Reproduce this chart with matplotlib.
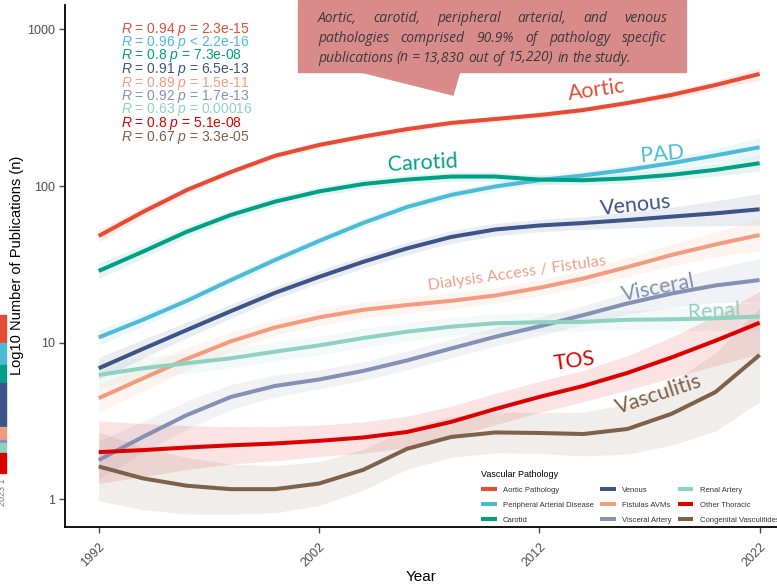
import numpy as np
import matplotlib
matplotlib.use("Agg")
import matplotlib.pyplot as plt
from matplotlib.patches import Rectangle, Polygon

plt.rcParams['font.family'] = ['Liberation Sans', 'DejaVu Sans']
plt.rcParams['mathtext.fontset'] = 'custom'
plt.rcParams['mathtext.it'] = 'Liberation Sans:italic'
plt.rcParams['mathtext.rm'] = 'Liberation Sans'

# ---- data (loess fits, publications per year) ----
years = [1992, 1994, 1996, 1998, 2000, 2002, 2004, 2006,
         2008, 2010, 2012, 2014, 2016, 2018, 2020, 2022]

aortic = [48.0, 68.3, 94.4, 123, 156, 183, 207, 231, 253, 268, 284, 306, 339, 382, 442, 520]
pad = [10.8, 14.0, 18.5, 25.1, 33.7, 44.6, 58.1, 73.5, 87.8, 99.4, 109, 117, 127, 140, 157, 177]
carotid = [28.7, 38.1, 51.1, 65.4, 79.5, 92.4, 103, 110, 115, 115, 110, 109, 112, 118, 127, 140]
venous = [6.86, 9.12, 12.05, 15.9, 20.8, 26.3, 32.8, 40.0, 47.3, 52.8, 56.0, 58.1, 60.7, 63.8, 67.0, 71.1]
fistulas = [4.42, 5.91, 7.87, 10.2, 12.5, 14.5, 16.2, 17.4, 18.5, 20.0, 22.4, 25.7, 30.4, 36.3, 42.4, 48.7]
visceral = [1.78, 2.50, 3.45, 4.50, 5.29, 5.82, 6.60, 7.70, 9.18, 10.9, 12.7, 15.0, 17.8, 20.6, 23.2, 25.1]
renal = [6.22, 6.86, 7.39, 7.95, 8.76, 9.60, 10.7, 11.75, 12.65, 13.3, 13.5, 13.6, 14.0, 14.1, 14.3, 14.7]
thoracic = [2.00, 2.06, 2.14, 2.21, 2.27, 2.36, 2.48, 2.69, 3.12, 3.77, 4.50, 5.29, 6.41, 8.04, 10.3, 13.4]
vasculitis = [1.62, 1.36, 1.22, 1.16, 1.16, 1.26, 1.54, 2.10, 2.50, 2.67, 2.65, 2.61, 2.81, 3.51, 4.84, 8.35]

# half width of the confidence ribbons (log10 units)
se_aortic = [0.04, 0.03, 0.025, 0.02, 0.02, 0.02, 0.02, 0.02, 0.02, 0.02, 0.02, 0.02, 0.02, 0.025, 0.03, 0.04]
se_pad = [0.05, 0.04, 0.035, 0.03, 0.03, 0.03, 0.03, 0.03, 0.03, 0.03, 0.03, 0.03, 0.03, 0.035, 0.045, 0.06]
se_carotid = [0.05, 0.04, 0.035, 0.03, 0.03, 0.03, 0.03, 0.03, 0.03, 0.03, 0.03, 0.03, 0.03, 0.035, 0.04, 0.05]
se_venous = [0.07, 0.06, 0.05, 0.045, 0.04, 0.04, 0.04, 0.04, 0.04, 0.04, 0.04, 0.04, 0.05, 0.06, 0.08, 0.1]
se_fistulas = [0.09, 0.08, 0.07, 0.06, 0.05, 0.05, 0.05, 0.05, 0.05, 0.05, 0.05, 0.05, 0.06, 0.07, 0.08, 0.1]
se_visceral = [0.12, 0.1, 0.09, 0.08, 0.07, 0.06, 0.06, 0.06, 0.06, 0.06, 0.06, 0.06, 0.07, 0.09, 0.11, 0.14]
se_renal = [0.08, 0.07, 0.065, 0.06, 0.06, 0.06, 0.06, 0.06, 0.06, 0.06, 0.06, 0.06, 0.06, 0.07, 0.08, 0.09]
se_thoracic = [0.2, 0.17, 0.14, 0.12, 0.11, 0.1, 0.1, 0.1, 0.1, 0.1, 0.1, 0.1, 0.11, 0.13, 0.16, 0.2]
se_vasculitis = [0.22, 0.2, 0.18, 0.16, 0.15, 0.14, 0.13, 0.13, 0.13, 0.13, 0.13, 0.14, 0.16, 0.2, 0.25, 0.3]

names = ['Aortic Pathology', 'Peripheral Arterial Disease', 'Carotid',
         'Venous', 'Fistulas AVMs', 'Visceral Artery',
         'Renal Artery', 'Other Thoracic', 'Congenital Vasculitides']
colors = ['#E64B35', '#4DBBD5', '#00A087', '#3C5488', '#F39B7F',
          '#8491B4', '#91D1C2', '#DC0000', '#7E6148']
series = [aortic, pad, carotid, venous, fistulas, visceral, renal, thoracic, vasculitis]
ses = [se_aortic, se_pad, se_carotid, se_venous, se_fistulas, se_visceral,
       se_renal, se_thoracic, se_vasculitis]

r_vals = ['0.94', '0.96', '0.8', '0.91', '0.89', '0.92', '0.63', '0.8', '0.67']
p_vals = ['= 2.3e-15', '< 2.2e-16', '= 7.3e-08', '= 6.5e-13', '= 1.5e-11',
          '= 1.7e-13', '= 0.00016', '= 5.1e-08', '= 3.3e-05']

# on-curve annotations: text, x(year), y(value), rotation, colour, size
curve_labels = [('Aortic', 2014.6, 413, 8, '#E64B35', 15.5),
                ('PAD', 2017.6, 161, 5, '#4DBBD5', 15.5),
                ('Carotid', 2006.7, 139, 3, '#00A087', 15.5),
                ('Venous', 2016.4, 75.6, 6, '#3C5488', 15.5),
                ('Dialysis Access / Fistulas', 2011.0, 27.5, 8, '#EFA08C', 11.8),
                ('Visceral', 2017.4, 22.3, 11, '#8491B4', 15.5),
                ('Renal', 2019.95, 15.8, 3, '#91D1C2', 15.5),
                ('TOS', 2013.6, 7.67, 8, '#DC0000', 15.5),
                ('Vasculitis', 2017.4, 4.65, 18, '#7E6148', 15.5)]

fig = plt.figure(figsize=(7.77, 5.86), dpi=100)
ax = fig.add_axes([65 / 777, 1 - 526.7 / 586, 1 - 65 / 777, (526.7 - 5) / 586])

x = np.array(years, dtype=float)
for vals, se, c in zip(series, ses, colors):
    lv = np.log10(vals)
    ax.fill_between(x, 10 ** (lv - np.array(se)), 10 ** (lv + np.array(se)),
                    color=c, alpha=0.11, linewidth=0)
for vals, c, n in zip(series, colors, names):
    ax.plot(x, vals, color=c, lw=2.9, solid_capstyle='butt',
            solid_joinstyle='round', label=n)

ax.set_yscale('log')
ax.set_xlim(1990.47, 2022.79)
ax.set_ylim(0.668, 1433)
ax.set_yticks([1, 10, 100, 1000])
ax.set_yticklabels(['1', '10', '100', '1000'])
ax.minorticks_off()
ax.set_xticks([1992, 2002, 2012, 2022])
ax.set_xticklabels(['1992', '2002', '2012', '2022'], rotation=45, ha='right',
                   rotation_mode='anchor')
ax.tick_params(colors='#4D4D4D', labelsize=9, length=4, width=1)
ax.tick_params(axis='x', pad=6)
for s in ['top', 'right']:
    ax.spines[s].set_visible(False)
for s in ['left', 'bottom']:
    ax.spines[s].set_linewidth(1.3)
ax.set_ylabel('Log10 Number of Publications (n)', fontsize=10.5, labelpad=2)
ax.set_xlabel('Year', fontsize=11, labelpad=1)

# R / p block
for i in range(9):
    fig.text(121 / 777, 1 - (29 + i * 13.5) / 586,
             r'$R$ = ' + r_vals[i] + r' $p$ ' + p_vals[i],
             color=colors[i], fontsize=10, va='center', ha='left')

for txt, xx, yy, rot, c, fs in curve_labels:
    ax.text(xx, yy, txt, color=c, fontsize=fs, rotation=rot, ha='center',
            va='center', family=['Lato', 'DejaVu Sans'])

leg = ax.legend(ncol=3, loc='lower left', bbox_to_anchor=(0.575, -0.008),
                title='Vascular Pathology', fontsize=5.5, title_fontsize=6.5,
                frameon=False, handlelength=2.0, columnspacing=0.9,
                labelspacing=1.0)
leg._legend_box.align = 'left'
for t in leg.get_texts():
    t.set_color('#333333')

# callout box
box_c = '#D98B8C'
fig.patches.append(Rectangle((298 / 777, 1 - 72 / 586), (686 - 298) / 777, 72 / 586,
                             transform=fig.transFigure, color=box_c, zorder=5))
fig.patches.append(Polygon([(357 / 777, 1 - 71 / 586), (460 / 777, 1 - 71 / 586),
                            (453 / 777, 1 - 95 / 586)], closed=True,
                           transform=fig.transFigure, color=box_c, zorder=5))

box_lines = ['Aortic, carotid, peripheral arterial, and venous',
             'pathologies comprised 90.9% of pathology specific',
             'publications (n = 13,830 out of 15,220) in the study.']
fig.canvas.draw()
rend = fig.canvas.get_renderer()
left_px, right_px = 318, 667
for k, line in enumerate(box_lines):
    ypos = 1 - (18 + k * 20) / 586
    words = line.split(' ')
    tw = []
    objs = []
    for w in words:
        t = fig.text(0, ypos, w, fontsize=10, style='italic', color='#3A3A3A',
                     va='center', family=['Open Sans', 'DejaVu Sans'], zorder=6)
        objs.append(t)
        tw.append(t.get_window_extent(rend).width)
    if k < 2:
        gap = (right_px - left_px - sum(tw)) / (len(words) - 1)
    else:
        gap = 3.5
    xp = left_px
    for t, w in zip(objs, tw):
        t.set_x(xp / 777)
        xp += w + gap

# cropped strip from neighbouring panel at left edge
strip = [(315, 343, '#E64B35'), (343, 365, '#4DBBD5'), (365, 383, '#00A087'),
         (383, 427, '#3C5488'), (427, 440, '#F39B7F'), (440, 443, '#8491B4'),
         (443, 453, '#91D1C2'), (453, 473, '#DC0000')]
for y0, y1, c in strip:
    fig.patches.append(Rectangle((0, 1 - y1 / 586), 6 / 777, (y1 - y0) / 586,
                                 transform=fig.transFigure, color=c))
fig.text(3 / 777, 1 - 492 / 586, '2023 1', rotation=90, fontsize=6.5,
         color='#777777', ha='center', va='center')

fig.savefig('out.png', dpi=100)
